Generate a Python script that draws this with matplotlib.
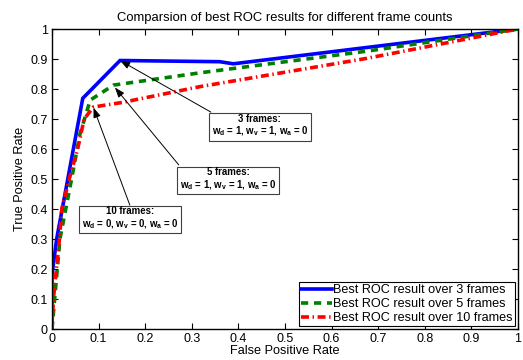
import matplotlib
matplotlib.use("Agg")
import matplotlib.pyplot as plt

plt.rcParams['font.family'] = ['Liberation Sans', 'DejaVu Sans']
plt.rcParams['mathtext.fontset'] = 'custom'
plt.rcParams['mathtext.rm'] = 'Liberation Sans'
plt.rcParams['mathtext.bf'] = 'Liberation Sans:bold'
plt.rcParams['mathtext.it'] = 'Liberation Sans:italic'

# data
fpr3 = [0.0, 0.0, 0.01, 0.066, 0.146, 0.36, 0.389, 1.0]
tpr3 = [0.0, 0.18, 0.30, 0.769, 0.895, 0.891, 0.884, 1.0]
fpr5 = [0.0, 0.017, 0.042, 0.060, 0.082, 0.132, 0.318, 0.675, 1.0]
tpr5 = [0.0, 0.30, 0.50, 0.65, 0.763, 0.813, 0.854, 0.926, 1.0]
fpr10 = [0.0, 0.003, 0.016, 0.021, 0.037, 0.055, 0.069, 0.089, 0.15, 0.318, 0.675, 1.0]
tpr10 = [0.0, 0.10, 0.30, 0.40, 0.50, 0.60, 0.70, 0.740, 0.755, 0.808, 0.902, 1.0]

labels = ['Best ROC result over 3 frames',
          'Best ROC result over 5 frames',
          'Best ROC result over 10 frames']
notes = [r'3 frames:' + '\n' + r'w$_\mathbf{d}$ = 1, w$_\mathbf{v}$ = 1, w$_\mathbf{a}$ = 0',
         r'5 frames:' + '\n' + r'w$_\mathbf{d}$ = 1, w$_\mathbf{v}$ = 1, w$_\mathbf{a}$ = 0',
         r'10 frames:' + '\n' + r'w$_\mathbf{d}$ = 0, w$_\mathbf{v}$ = 0, w$_\mathbf{a}$ = 0']
note_targets = [(0.146, 0.895), (0.135, 0.805), (0.089, 0.738)]
note_pos = [(0.446, 0.676), (0.378, 0.498), (0.167, 0.368)]
note_tail = [(0.341, 0.723), (0.272, 0.547), (0.167, 0.413)]

fig = plt.figure(figsize=(5.23, 3.6), dpi=100)
ax = fig.add_axes([52/523, 1 - 329/360, 466/523, 300/360])

ax.plot(fpr3, tpr3, color='#0000ff', lw=2.6, solid_joinstyle='miter', label=labels[0])
ax.plot(fpr5, tpr5, color='#008000', lw=2.6, linestyle=(0, (2, 1.6)), label=labels[1])
ax.plot(fpr10, tpr10, color='#ff0000', lw=2.6, linestyle=(0, (2.2, 1.0, 0.4, 1.0)), label=labels[2])

ax.set_xlim(0, 1)
ax.set_ylim(0, 1)
ax.set_xticks([i / 10 for i in range(11)])
ax.set_yticks([i / 10 for i in range(11)])
ax.set_xticklabels(['0', '0.1', '0.2', '0.3', '0.4', '0.5', '0.6', '0.7', '0.8', '0.9', '1'])
ax.set_yticklabels(['0', '0.1', '0.2', '0.3', '0.4', '0.5', '0.6', '0.7', '0.8', '0.9', '1'])
ax.tick_params(direction='in', top=True, right=True, length=4, width=0.8, labelsize=9, pad=3)
for s in ax.spines.values():
    s.set_linewidth(1.0)

ax.set_title('Comparsion of best ROC results for different frame counts', fontsize=9.4, pad=6)
ax.set_xlabel('False Positive Rate', fontsize=9.2, labelpad=0)
ax.set_ylabel('True Positive Rate', fontsize=9.2, labelpad=3)

for txt, tgt, pos, tail in zip(notes, note_targets, note_pos, note_tail):
    ax.annotate('', xy=tgt, xytext=tail,
                arrowprops=dict(arrowstyle='-|>,head_length=0.6,head_width=0.22',
                                color='black', lw=0.7, shrinkA=0, shrinkB=0))
    ax.text(pos[0], pos[1], txt, ha='center', va='center', fontsize=6.9,
            fontweight='bold', linespacing=1.1,
            bbox=dict(boxstyle='square,pad=0.25', fc='white', ec='#404040', lw=0.8))

leg = ax.legend(loc='lower right', fontsize=9.1, frameon=True, fancybox=False,
                edgecolor='black', framealpha=1, handlelength=2.4, handletextpad=0.15,
                borderpad=0.2, labelspacing=0.15, borderaxespad=0.2)
leg.get_frame().set_linewidth(0.8)

fig.savefig('out.png', dpi=100)
